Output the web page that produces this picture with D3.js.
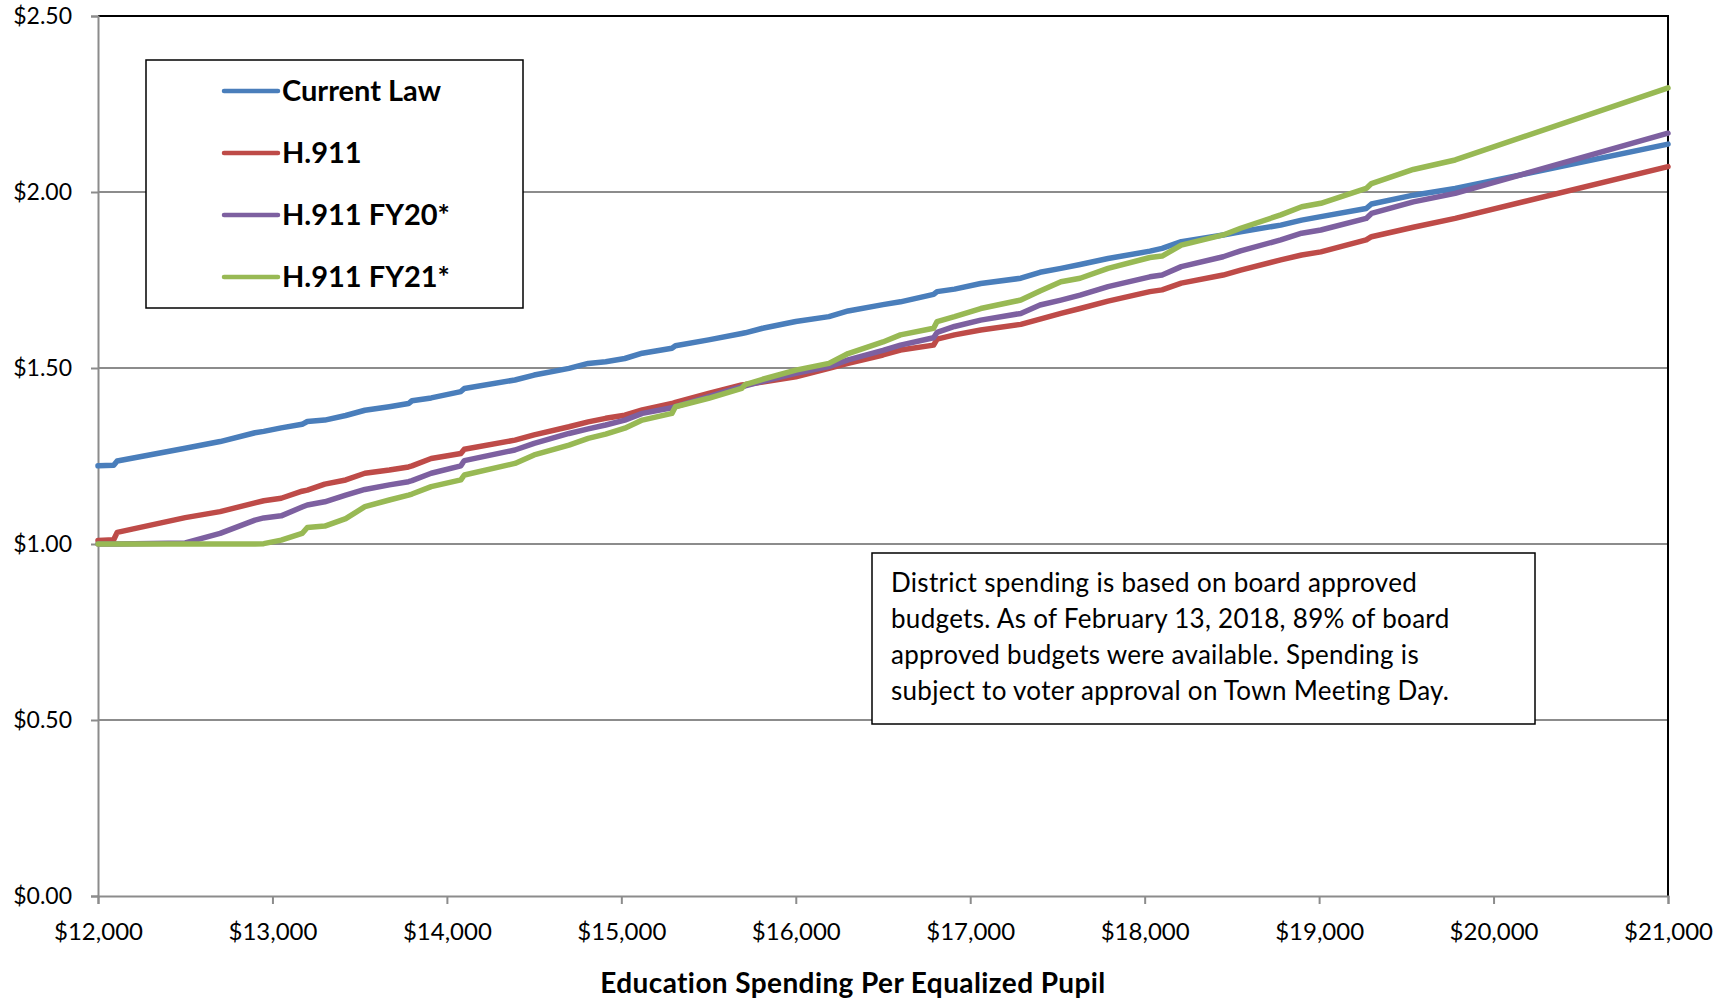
<!DOCTYPE html>
<html>
<head>
<meta charset="utf-8">
<script src="https://cdn.jsdelivr.net/npm/d3@7"></script>
<style>
  body { margin: 0; background: #fff; }
  text { font-family: Lato, "Open Sans", sans-serif; fill: #000; }
</style>
</head>
<body>
<div id="chart"></div>
<script>
// spending per equalized pupil (x) and tax rate for each scenario
const spending = [12000, 12090, 12110, 12500, 12700, 12900, 12950, 13050, 13170, 13200, 13300, 13420, 13530,
  13670, 13780, 13800, 13910, 14080, 14100, 14390, 14500, 14700, 14810, 14910, 15020, 15120, 15290, 15310,
  15500, 15690, 15710, 15810, 16000, 16190, 16300, 16500, 16600, 16790, 16810, 16910, 17060, 17290, 17400,
  17520, 17630, 17790, 18030, 18100, 18210, 18450, 18550, 18780, 18900, 19010, 19270, 19300, 19540, 19780, 21000];

const currentLaw = [1.222, 1.224, 1.236, 1.272, 1.291, 1.316, 1.320, 1.330, 1.340, 1.348, 1.352, 1.365, 1.380,
  1.390, 1.399, 1.407, 1.415, 1.433, 1.442, 1.466, 1.480, 1.499, 1.513, 1.518, 1.527, 1.542, 1.556, 1.563,
  1.580, 1.598, 1.600, 1.613, 1.632, 1.646, 1.662, 1.680, 1.688, 1.709, 1.717, 1.724, 1.740, 1.755, 1.772,
  1.783, 1.794, 1.811, 1.832, 1.840, 1.859, 1.878, 1.887, 1.906, 1.920, 1.930, 1.953, 1.966, 1.991, 2.010, 2.136];

const h911 = [1.010, 1.012, 1.033, 1.075, 1.092, 1.117, 1.123, 1.130, 1.150, 1.153, 1.170, 1.182, 1.201,
  1.210, 1.219, 1.222, 1.243, 1.257, 1.269, 1.295, 1.310, 1.333, 1.347, 1.357, 1.366, 1.381, 1.399, 1.402,
  1.428, 1.452, 1.453, 1.460, 1.475, 1.499, 1.513, 1.537, 1.551, 1.565, 1.582, 1.594, 1.608, 1.624, 1.639,
  1.655, 1.669, 1.690, 1.717, 1.722, 1.741, 1.764, 1.778, 1.807, 1.821, 1.830, 1.864, 1.873, 1.900, 1.925, 2.072];

const h911fy20 = [1.000, 1.000, 1.000, 1.003, 1.030, 1.068, 1.074, 1.080, 1.105, 1.111, 1.120, 1.139, 1.155,
  1.168, 1.177, 1.180, 1.201, 1.222, 1.237, 1.267, 1.286, 1.314, 1.327, 1.338, 1.352, 1.371, 1.387, 1.390,
  1.419, 1.447, 1.449, 1.462, 1.485, 1.504, 1.523, 1.550, 1.565, 1.586, 1.601, 1.618, 1.636, 1.655, 1.679,
  1.693, 1.707, 1.731, 1.759, 1.764, 1.788, 1.816, 1.833, 1.864, 1.883, 1.892, 1.925, 1.939, 1.972, 1.996, 2.167];

const h911fy21 = [1.000, 1.000, 1.000, 1.000, 1.000, 1.000, 1.001, 1.011, 1.030, 1.047, 1.051, 1.072, 1.106,
  1.125, 1.139, 1.142, 1.163, 1.182, 1.196, 1.229, 1.253, 1.281, 1.300, 1.312, 1.329, 1.352, 1.371, 1.390,
  1.414, 1.442, 1.453, 1.468, 1.494, 1.513, 1.541, 1.574, 1.594, 1.613, 1.632, 1.646, 1.669, 1.693, 1.719,
  1.745, 1.755, 1.783, 1.814, 1.818, 1.849, 1.878, 1.897, 1.935, 1.958, 1.968, 2.010, 2.024, 2.064, 2.091, 2.296];

const seriesNames = ["Current Law", "H.911", "H.911 FY20*", "H.911 FY21*"];
const seriesColors = ["#4a7ebb", "#be4b48", "#7d60a0", "#98b954"];
const seriesValues = [currentLaw, h911, h911fy20, h911fy21];

const xTicks = [12000, 13000, 14000, 15000, 16000, 17000, 18000, 19000, 20000, 21000];
const yTicks = [0, 0.5, 1.0, 1.5, 2.0, 2.5];

const noteLines = [
  "District spending is based on board approved",
  "budgets. As of February 13, 2018, 89% of board",
  "approved budgets were available. Spending is",
  "subject to voter approval on Town Meeting Day."
];

const W = 1731, H = 1002;
const margin = {top: 16, right: 63, bottom: 106, left: 98};
const width = W - margin.left - margin.right;
const height = H - margin.top - margin.bottom;

const svg = d3.select("#chart").append("svg")
    .attr("width", W)
    .attr("height", H);

const g = svg.append("g")
    .attr("transform", "translate(" + margin.left + "," + margin.top + ")");

const x = d3.scaleLinear().domain([12000, 21000]).range([0, width]);
const y = d3.scaleLinear().domain([0, 2.5]).range([height, 0]);

// gridlines
g.selectAll(".grid")
    .data(yTicks.filter(d => d > 0 && d < 2.5))
    .enter()
    .append("line")
    .attr("x1", 0).attr("x2", width)
    .attr("y1", d => y(d)).attr("y2", d => y(d))
    .style("stroke", "#8c8c8c")
    .style("stroke-width", 2);

// top + right border
g.append("path")
    .attr("d", "M0," + y(2.5) + "H" + width + "V" + height)
    .style("fill", "none")
    .style("stroke", "#000")
    .style("stroke-width", 2);

// y axis
const yAxis = g.append("g")
    .call(d3.axisLeft(y).tickValues(yTicks).tickSize(7).tickPadding(19).tickFormat(d3.format("$.2f")));
yAxis.select(".domain").style("stroke", "#8c8c8c").style("stroke-width", 2);
yAxis.selectAll(".tick line").style("stroke", "#8c8c8c").style("stroke-width", 2);
yAxis.selectAll("text").style("font-size", "23px").style("font-family", "Lato").attr("fill", "#000");

// x axis
const xAxis = g.append("g")
    .attr("transform", "translate(0," + height + ")")
    .call(d3.axisBottom(x).tickValues(xTicks).tickSize(8).tickPadding(19).tickFormat(d3.format("$,")));
xAxis.select(".domain").style("stroke", "#8c8c8c").style("stroke-width", 2);
xAxis.selectAll(".tick line").style("stroke", "#8c8c8c").style("stroke-width", 2);
xAxis.selectAll("text").style("font-size", "24px").style("font-family", "Lato").attr("fill", "#000");

// axis title
svg.append("text")
    .attr("x", 853)
    .attr("y", 993)
    .style("text-anchor", "middle")
    .style("font-size", "28px")
    .style("font-weight", "bold")
    .style("letter-spacing", "0.4px")
    .text("Education Spending Per Equalized Pupil");

// the lines
const line = d3.line()
    .x((d, i) => x(spending[i]))
    .y(d => y(d));

g.selectAll(".series")
    .data(seriesValues)
    .enter()
    .append("path")
    .attr("d", line)
    .style("fill", "none")
    .style("stroke", (d, i) => seriesColors[i])
    .style("stroke-width", 5.5)
    .style("stroke-linejoin", "round")
    .style("stroke-linecap", "round");

// legend
const legend = svg.append("g");
legend.append("rect")
    .attr("x", 146).attr("y", 60)
    .attr("width", 377).attr("height", 248)
    .style("fill", "#fff")
    .style("stroke", "#000")
    .style("stroke-width", 1.5);

const items = legend.selectAll(".item")
    .data(seriesNames)
    .enter()
    .append("g")
    .attr("transform", (d, i) => "translate(0," + (91 + i * 62) + ")");

items.append("line")
    .attr("x1", 224).attr("x2", 278)
    .style("stroke", (d, i) => seriesColors[i])
    .style("stroke-width", 4.5)
    .style("stroke-linecap", "round");

items.append("text")
    .attr("x", 282)
    .attr("y", 10)
    .style("font-size", "29px")
    .style("font-weight", "bold")
    .text(d => d);

// note box
const note = svg.append("g");
note.append("rect")
    .attr("x", 872).attr("y", 553)
    .attr("width", 663).attr("height", 171)
    .style("fill", "#fff")
    .style("stroke", "#000")
    .style("stroke-width", 1.5);

note.selectAll("text")
    .data(noteLines)
    .enter()
    .append("text")
    .attr("x", 891)
    .attr("y", (d, i) => 592 + i * 36)
    .style("font-size", "26px")
    .style("letter-spacing", "0.3px")
    .text(d => d);
</script>
</body>
</html>
